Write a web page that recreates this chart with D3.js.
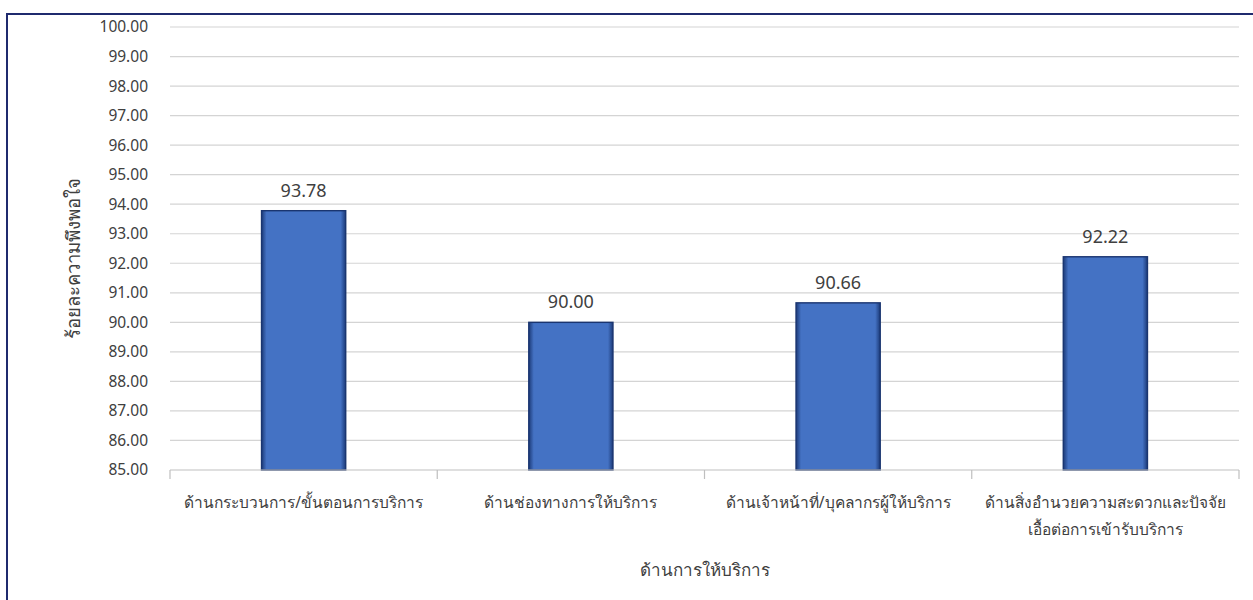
<!DOCTYPE html>
<html>
<head>
<meta charset="utf-8">
<script src="https://cdn.jsdelivr.net/npm/d3@7"></script>
<style>
  body { margin: 0; background: #fff; }
  text { font-family: "Noto Sans", "Open Sans", sans-serif; fill: #404040; }
</style>
</head>
<body>
<svg id="chart"></svg>
<script>
const categories = [
    ["ด้านกระบวนการ/ขั้นตอนการบริการ"],
    ["ด้านช่องทางการให้บริการ"],
    ["ด้านเจ้าหน้าที่/บุคลากรผู้ให้บริการ"],
    ["ด้านสิ่งอำนวยความสะดวกและปัจจัย", "เอื้อต่อการเข้ารับบริการ"]
];
const values = [93.78, 90.00, 90.66, 92.22];
const yTicks = d3.range(85, 100.5, 1);
const yTitle = "ร้อยละความพึงพอใจ";
const xTitle = "ด้านการให้บริการ";

const width = 1253, height = 600;
const margin = { left: 170, right: 14, top: 27, bottom: 130 };

const svg = d3.select('#chart')
    .attr('width', width)
    .attr('height', height);

const defs = svg.append('defs');
const grad = defs.append('linearGradient').attr('id', 'barGrad')
    .attr('x1', 0).attr('x2', 1).attr('y1', 0).attr('y2', 0);
grad.append('stop').attr('offset', '0%').attr('stop-color', '#1c3a78');
grad.append('stop').attr('offset', '6%').attr('stop-color', '#4472c4');
grad.append('stop').attr('offset', '94%').attr('stop-color', '#4472c4');
grad.append('stop').attr('offset', '100%').attr('stop-color', '#1c3a78');

// outer frame
svg.append('rect')
    .attr('x', 7).attr('y', 14)
    .attr('width', 1260).attr('height', 620)
    .attr('fill', 'none')
    .attr('stroke', '#1f2a6e')
    .attr('stroke-width', 2);

const x = d3.scaleBand()
    .domain(d3.range(categories.length))
    .range([margin.left, width - margin.right])
    .paddingInner(0).paddingOuter(0);

const y = d3.scaleLinear()
    .domain([85, 100])
    .range([height - margin.bottom, margin.top]);

// gridlines
svg.append('g')
    .selectAll('line')
    .data(yTicks.filter(d => d > 85))
    .enter().append('line')
    .attr('x1', margin.left).attr('x2', width - margin.right)
    .attr('y1', d => y(d)).attr('y2', d => y(d))
    .attr('stroke', '#d4d4d4').attr('stroke-width', 1.2);

// y axis labels
const yAxis = svg.append('g')
    .attr('transform', `translate(${margin.left - 22},0)`)
    .call(d3.axisLeft(y).tickValues(yTicks).tickFormat(d3.format('.2f')).tickSize(0).tickPadding(0));
yAxis.select('.domain').remove();
yAxis.selectAll('text')
    .style('font-size', '15.5px')
    .attr('fill', '#404040');

// bars
const bw = x.bandwidth() * 0.315;
svg.append('g')
    .selectAll('rect')
    .data(values)
    .enter().append('rect')
    .attr('x', (d, i) => x(i) + x.bandwidth() / 2 - bw / 2)
    .attr('y', d => y(d))
    .attr('width', bw)
    .attr('height', d => y(85) - y(d))
    .attr('fill', 'url(#barGrad)')
    .attr('stroke', '#1a3570')
    .attr('stroke-width', 1.4);

// bar value labels
svg.append('g')
    .selectAll('text')
    .data(values)
    .enter().append('text')
    .attr('x', (d, i) => x(i) + x.bandwidth() / 2)
    .attr('y', d => y(d) - 14)
    .attr('text-anchor', 'middle')
    .style('font-size', '18px')
    .text(d => d.toFixed(2));

// x axis
const xAxis = svg.append('g')
    .attr('transform', `translate(0,${y(85)})`);
xAxis.append('line')
    .attr('x1', margin.left).attr('x2', width - margin.right)
    .attr('stroke', '#bfbfbf').attr('stroke-width', 1.2);
xAxis.selectAll('.tick')
    .data(d3.range(categories.length + 1))
    .enter().append('line')
    .attr('x1', i => i < categories.length ? x(i) : x.range()[1])
    .attr('x2', i => i < categories.length ? x(i) : x.range()[1])
    .attr('y1', 0).attr('y2', 9)
    .attr('stroke', '#bfbfbf').attr('stroke-width', 1.2);

const labels = xAxis.selectAll('.xlabel')
    .data(categories)
    .enter().append('text')
    .attr('class', 'xlabel')
    .attr('text-anchor', 'middle')
    .style('font-size', '15.5px')
    .attr('transform', (d, i) => `translate(${x(i) + x.bandwidth() / 2},38)`);
labels.selectAll('tspan')
    .data(d => d)
    .enter().append('tspan')
    .attr('x', 0)
    .attr('dy', (d, j) => j === 0 ? 0 : 27)
    .text(d => d);

// axis titles
svg.append('text')
    .attr('x', (margin.left + width - margin.right) / 2)
    .attr('y', 576)
    .attr('text-anchor', 'middle')
    .style('font-size', '17px')
    .text(xTitle);

svg.append('text')
    .attr('transform', `translate(80,${(y(85) + y(100)) / 2 + 10}) rotate(-90)`)
    .attr('text-anchor', 'middle')
    .style('font-size', '18.5px')
    .text(yTitle);
</script>
</body>
</html>
